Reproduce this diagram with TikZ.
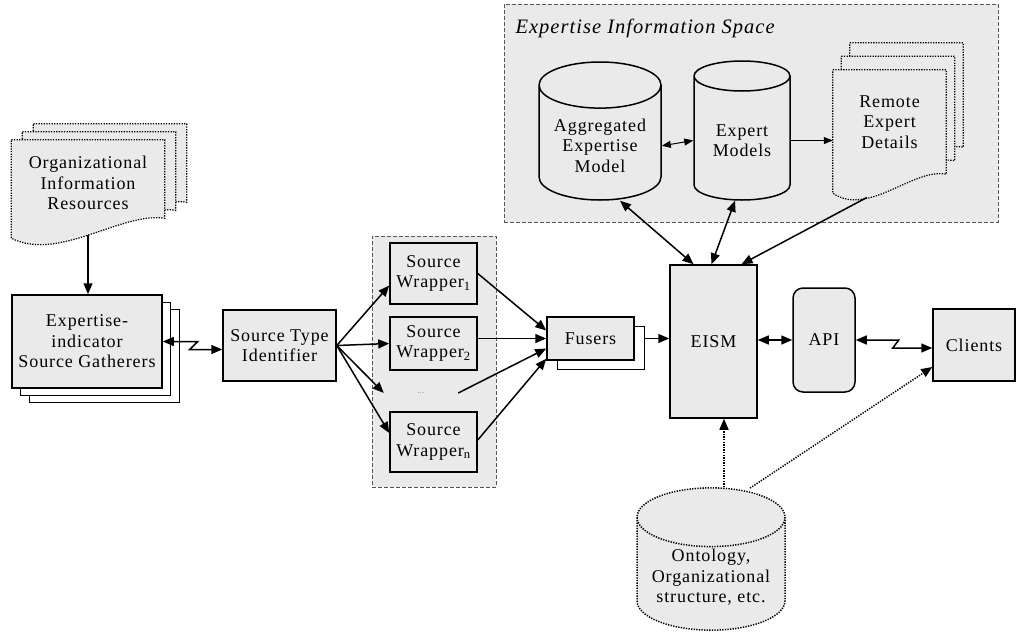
\documentclass[tikz,border=0pt]{standalone}
\usepackage{fontspec}
\setmainfont{Liberation Serif}[LetterSpace=5]
\usetikzlibrary{positioning, shapes.geometric, arrows.meta, calc, backgrounds, fit, shadows}
\definecolor{boxgray}{HTML}{EAEAEA}
\definecolor{groupline}{HTML}{555555}
\newcommand{\bodyfont}{\fontsize{18}{20.5}\selectfont}
\newcommand{\docoutline}[2]{%
  \draw[#1] (#2.north west) -- (#2.north east) -- (#2-r)
    .. controls ($(#2-r)!0.29!(#2-l)+(0pt,12pt)$) and ($(#2-r)!0.69!(#2-l)+(0pt,-30pt)$) .. (#2-l) -- cycle;}
\tikzset{
	boxnode/.style={
			draw=black,
			line width=1.5pt,
			fill=boxgray,
			align=center,
			inner sep=2pt,
			font=\bodyfont
		},
	stacktwo/.style={
			boxnode,
			general shadow={shadow xshift=17pt, shadow yshift=-14pt, fill=white, draw=black, line width=0.7pt},
			general shadow={shadow xshift=8pt, shadow yshift=-7pt, fill=white, draw=black, line width=0.7pt}
		},
	stackone/.style={
			boxnode,
			general shadow={shadow xshift=10pt, shadow yshift=-9pt, fill=white, draw=black, line width=0.7pt}
		},
	dbnode/.style={
			boxnode,
			cylinder,
			shape border rotate=90,
			aspect=0.48,
			anchor=shape center
		},
	docnode/.style={
			rectangle,
			align=center,
			inner sep=2pt,
			font=\bodyfont
		},
	docshape/.style={
			draw=black,
			line width=1.2pt,
			dash pattern=on 1.3pt off 1.3pt,
			fill=boxgray
		},
	groupbox/.style={
			draw=groupline,
			line width=0.8pt,
			dash pattern=on 4pt off 2pt,
			fill=boxgray,
			inner sep=0pt
		},
	arr/.style={line width=1.5pt, -{Triangle[length=11pt,width=9pt]}},
	biarr/.style={line width=1.5pt, {Triangle[length=11pt,width=9pt]}-{Triangle[length=11pt,width=9pt]}},
	thinarr/.style={line width=1pt, -{Triangle[length=9pt,width=7pt]}},
	thinbiarr/.style={line width=1pt, {Triangle[length=9pt,width=7pt]}-{Triangle[length=9pt,width=7pt]}},
	dotarr/.style={line width=1.5pt, dash pattern=on 1.3pt off 1.3pt, -{Triangle[length=11pt,width=9pt]}}
}
\begin{document}
\begin{tikzpicture}[x=1pt, y=-1pt]
\useasboundingbox (0,0) rectangle (1016,632);

% dashed groups
\begin{scope}[on background layer]
\node[groupbox, minimum width=124pt, minimum height=251pt] (wrapgroup) at (434,361.5) {};
\node[groupbox, minimum width=494pt, minimum height=218pt] (eisgroup) at (751,113) {};
\end{scope}
\node[anchor=base west, font=\fontsize{20.5}{23}\selectfont\itshape] (eistitle) at (512,33) {Expertise Information Space};

% left part
\node[docnode, minimum width=153pt, minimum height=86pt] (orgres) at (88,183) {Organizational\\Information\\Resources};
\node[stacktwo, minimum width=150pt, minimum height=93pt] (gatherers) at (87,341.5) {Expertise-\\indicator\\Source Gatherers};
\node[boxnode, minimum width=113pt, minimum height=71pt] (sourcetype) at (279.5,345.5) {Source Type\\Identifier};

% wrappers
\node[boxnode, minimum width=87pt, minimum height=61pt] (wrap1) at (433.5,273.5) {Source\\Wrapper\textsubscript{1}};
\node[boxnode, minimum width=87pt, minimum height=53pt] (wrap2) at (433.5,343.5) {Source\\Wrapper\textsubscript{2}};
\node[minimum width=74pt, minimum height=12pt, inner sep=0pt, font=\fontsize{8}{8}\selectfont, text=gray] (dots) at (421,393) {...};
\node[boxnode, minimum width=87pt, minimum height=60pt] (wrapn) at (433.5,442) {Source\\Wrapper\textsubscript{n}};
\node[stackone, minimum width=87pt, minimum height=43pt] (fusers) at (590.5,338.5) {Fusers};

% right part
\node[boxnode, minimum width=87pt, minimum height=153pt] (eism) at (713.5,341.5) {EISM};
\node[boxnode, rounded corners=10pt, minimum width=62pt, minimum height=104pt] (api) at (824,340) {API};
\node[boxnode, minimum width=82pt, minimum height=72pt] (clients) at (974,345) {Clients};

% information space
\node[dbnode, minimum width=122pt, minimum height=138pt] (aggr) at (600,131) {Aggregated\\Expertise\\Model};
\node[dbnode, minimum width=96pt, minimum height=139pt] (expmod) at (742,130.5) {Expert\\Models};
\node[docnode, minimum width=113pt, minimum height=104pt] (remote) at (889.5,122) {Remote\\Expert\\Details};
\node[dbnode, dash pattern=on 1.3pt off 1.3pt, minimum width=148pt, minimum height=135pt] (ontology) at (711,559) {Ontology,\\Organizational\\structure, etc.};

% document outlines
\begin{scope}[on background layer]
\coordinate (orgres-r) at ([yshift=8pt]orgres.south east);
\coordinate (orgres-l) at ([yshift=-12pt]orgres.south west);
\coordinate (orgres-b) at ($(orgres-r)!0.5!(orgres-l)+(0pt,-7pt)$);
\foreach \k in {2,1}
  \docoutline{docshape, transform canvas={shift={(\k*11pt,\k*8pt)}}}{orgres};
\docoutline{docshape}{orgres}
\coordinate (remote-r) at (remote.south east);
\coordinate (remote-l) at ([yshift=-19pt]remote.south west);
\coordinate (remote-b) at ($(remote-r)!0.7!(remote-l)+(0pt,-10pt)$);
\foreach \k in {2,1}
  \docoutline{docshape, transform canvas={shift={(\k*8.5pt,\k*13.5pt)}}}{remote};
\docoutline{docshape}{remote}
\end{scope}

% connectors
\draw[arr] (orgres-b) -- (orgres-b |- gatherers.north);
\draw[biarr] (gatherers.east) -- ++(35pt,0pt) -- ++(-8pt,-8pt) -- ([yshift=-4pt]sourcetype.west);
\draw[arr] (sourcetype.east) -- ([yshift=-12pt]wrap1.west);
\draw[arr] (sourcetype.east) -- (wrap2.west);
\draw[arr] (sourcetype.east) -- (dots.west);
\draw[arr] (sourcetype.east) -- ([yshift=9pt]wrapn.west);
\draw[arr] (wrap1.east) -- ([yshift=8pt]fusers.west);
\draw[arr] ([yshift=5pt]wrap2.east) -- (fusers.west);
\draw[arr] (dots.east) -- ([yshift=-10pt]fusers.west);
\draw[arr] ([yshift=2pt]wrapn.east) -- ([yshift=2pt]fusers.south west);
\draw[arr] ([xshift=10pt]fusers.east) -- (eism.west |- fusers.east);
\draw[biarr] (eism.east |- api.west) -- (api.west);
\draw[biarr] (api.east) -- ++(43pt,0pt) -- ++(-6pt,-8pt) -- ([yshift=-3pt]clients.west);
\draw[thinbiarr] (aggr.east) -- (expmod.west);
\draw[thinarr] (expmod.east) -- (expmod.east -| remote.west);
\draw[biarr] ([xshift=20pt]aggr.south) -- ([xshift=-20pt]eism.north);
\draw[biarr] ([xshift=-7pt]expmod.south) -- ([xshift=-2pt]eism.north);
\draw[arr] (remote-b) -- ([xshift=28pt]eism.north);
\draw[dotarr] ([xshift=13pt]ontology.north) -- ([xshift=13pt]ontology.north |- eism.south);
\draw[dotarr] ([xshift=39pt,yshift=-1pt]ontology.north) -- ([yshift=-22pt]clients.west);
\end{tikzpicture}
\end{document}
